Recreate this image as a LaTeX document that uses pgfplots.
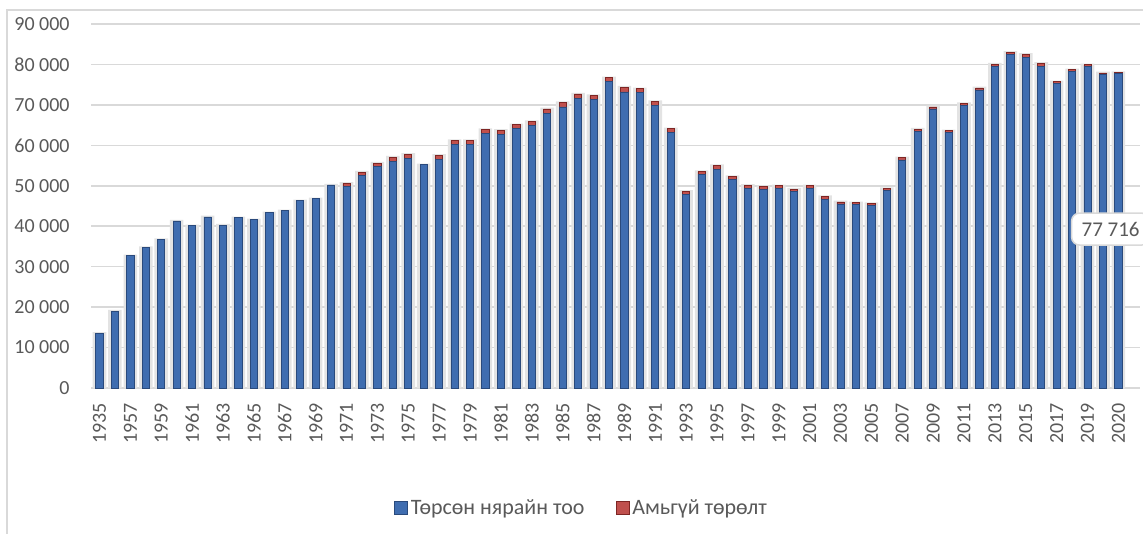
\documentclass[border=0pt]{standalone}
\usepackage{pgfplots}
\pgfplotsset{compat=1.18}
\usepackage{pgfplotstable}
\usepackage{fontspec}
\setmainfont{Carlito}

\definecolor{txtgray}{HTML}{595959}
\definecolor{gridgray}{HTML}{D9D9D9}
\definecolor{bluefill}{HTML}{3F6DB0}
\definecolor{blueedge}{HTML}{2A4A7C}
\definecolor{redfill}{HTML}{C0504D}
\definecolor{rededge}{HTML}{7E2624}

% i = category position, b = births, s = stillbirths
\pgfplotstableread{
i b s
0 13500 0
1 19000 0
2 32700 0
3 34700 0
4 36700 0
5 41300 0
6 40100 0
7 42300 0
8 40300 0
9 42100 0
10 41600 0
11 43300 0
12 43800 0
13 46300 0
14 46800 0
15 50200 0
16 49900 700
17 52600 800
18 54800 800
19 56100 1000
20 56700 1100
21 55200 0
22 56500 1000
23 60200 1000
24 60200 1000
25 62900 1000
26 62700 1000
27 64100 1000
28 64900 1000
29 67800 1200
30 69500 1100
31 71500 1200
32 71300 1000
33 75700 1000
34 73200 1200
35 73000 1000
36 69800 1000
37 63100 1000
38 47800 800
39 52700 800
40 54100 900
41 51500 800
42 49400 700
43 49100 700
44 49300 700
45 48500 700
46 49400 600
47 46700 600
48 45500 500
49 45300 500
50 45100 500
51 48800 500
52 56400 500
53 63500 500
54 69000 500
55 63100 500
56 69800 500
57 73700 500
58 79600 500
59 82500 500
60 81800 700
61 79600 700
62 75200 500
63 78200 500
64 79400 500
65 77500 400
66 77716 300
}\births

\pgfplotsset{
  base/.style={
    scale only axis, width=524.5pt, height=182pt,
    xmin=-0.55, xmax=67.4, ymin=0, ymax=90000,
    at={(45.5pt,73pt)}, anchor=south west,
    axis line style={draw=none}, clip=false,
    scaled y ticks=false,
  },
}

\begin{document}
\begin{tikzpicture}
  \useasboundingbox (0,0) rectangle (571.5pt,267pt);
  \draw[gridgray, line width=0.75pt] (3.5pt,-2pt) -- (3.5pt,262pt) -- (580pt,262pt);

  % back layer: grid, ticks, shadows
  \begin{axis}[base,
      ymajorgrids, grid style={gridgray, line width=0.75pt},
      major tick length=0,
      ytick={0,10000,20000,30000,40000,50000,60000,70000,80000,90000},
      yticklabels={0,10 000,20 000,30 000,40 000,50 000,60 000,70 000,80 000,90 000},
      xtick={0,2,...,66},
      xticklabels={1935,1957,1959,1961,1963,1965,1967,1969,1971,1973,1975,1977,1979,1981,1983,1985,1987,1989,1991,1993,1995,1997,1999,2001,2003,2005,2007,2009,2011,2013,2015,2017,2019,2020},
      yticklabel style={anchor=east, inner sep=0pt, xshift=-10.5pt, text=txtgray, font=\fontsize{10}{12}\selectfont},
      xticklabel style={yshift=-7.5pt, rotate=90, anchor=east, inner sep=0pt, text=txtgray, font=\fontsize{10}{12}\selectfont},
    ]
    \addplot[ybar, bar width=6.8pt, fill=black!11, draw=none]
      table[x=i, y expr=\thisrow{b}+\thisrow{s}+300] {\births};
  \end{axis}

  % front layer: stacked bars
  \begin{axis}[base, ybar stacked, bar width=3.6pt,
      xtick=\empty, ytick=\empty,
      legend style={at={(0.468,-0.33)}, anchor=center, draw=none, fill=none,
        legend columns=2, font=\fontsize{11}{13}\selectfont, text=txtgray,
        nodes={inner sep=1.5pt},
        /tikz/every even column/.append style={column sep=14pt}},
      legend image code/.code={\draw[#1, line width=0.4pt] (0pt,-3.25pt) rectangle (6.5pt,3.25pt);},
    ]
    \addplot[fill=bluefill, draw=blueedge, line width=0.4pt]
      table[x=i, y=b] {\births};
    \addplot[fill=redfill, draw=rededge, line width=0.4pt]
      table[x=i, y=s] {\births};
    \legend{Төрсөн нярайн тоо, Амьгүй төрөлт}
    \coordinate (callout) at (axis cs:62.92,39300);
  \end{axis}
  \node[draw=gridgray, fill=white, rounded corners=4pt, text=txtgray,
    font=\fontsize{10.5}{12}\selectfont, minimum height=16pt,
    inner xsep=5pt, anchor=west, line width=0.75pt]
    at (callout) {77 716};
\end{tikzpicture}
\end{document}
